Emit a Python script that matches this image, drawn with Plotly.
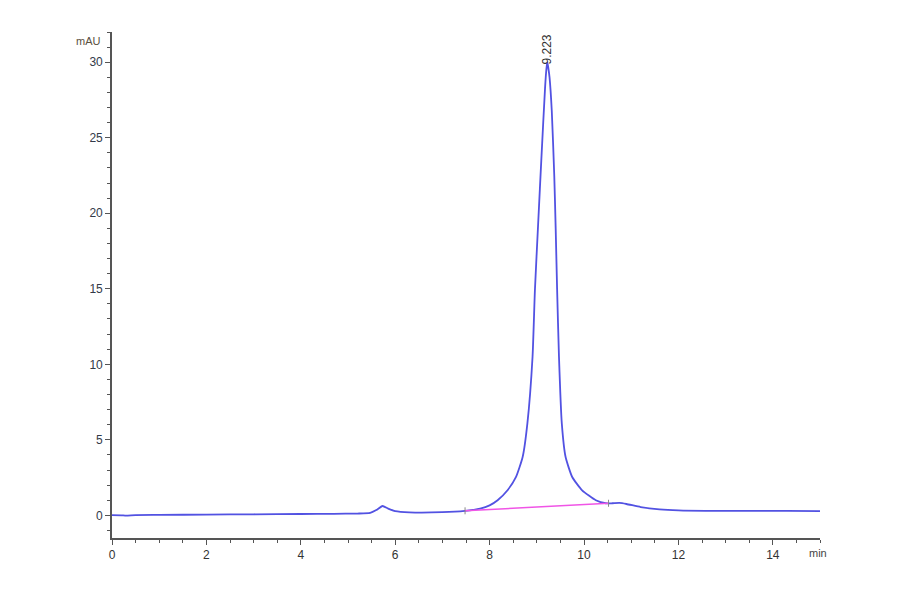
"""
HPLC/SEC chromatogram: absorbance (mAU) vs retention time (min),
single main peak at 9.223 min with its integration baseline.
"""

import plotly.graph_objects as go

# Detector trace (time in min, signal in mAU)
time_min = [0.0, 0.2, 0.3, 0.5, 1.0, 2.0, 3.0, 4.0, 4.7, 5.2, 5.47, 5.6, 5.73, 5.85,
            6.0, 6.3, 7.0, 7.48, 7.8, 8.0, 8.17, 8.38, 8.56, 8.70, 8.80, 8.91, 8.96,
            9.03, 9.10, 9.175, 9.205, 9.223, 9.24, 9.27, 9.317, 9.37, 9.40, 9.43,
            9.47, 9.53, 9.61, 9.75, 9.96, 10.25, 10.46, 10.6, 10.75, 10.9, 11.2,
            11.6, 12.0, 12.7, 13.5, 14.3, 15.0]
signal_mau = [0.02, 0.0, -0.02, 0.02, 0.03, 0.05, 0.07, 0.09, 0.10, 0.12, 0.16, 0.35,
              0.62, 0.45, 0.28, 0.20, 0.21, 0.30, 0.45, 0.66, 1.0, 1.66, 2.54, 3.86,
              6.07, 10.5, 14.9, 19.4, 23.8, 28.3, 29.6, 30.0, 29.7, 29.0, 26.8, 22.5,
              19.0, 15.0, 10.5, 6.07, 3.86, 2.54, 1.66, 1.0, 0.80, 0.80, 0.82, 0.75,
              0.55, 0.40, 0.33, 0.30, 0.30, 0.30, 0.28]

# Integration baseline under the main peak
baseline_time = [7.48, 10.52]
baseline_mau = [0.30, 0.80]

peak_time = 9.223
peak_mau = 30.0
peak_label = "9.223"

x_tick_vals = [0, 2, 4, 6, 8, 10, 12, 14]
y_tick_vals = [0, 5, 10, 15, 20, 25, 30]

FONT = 'Liberation Sans, Arial, sans-serif'


def main():
    fig = go.Figure()

    fig.add_trace(go.Scatter(
        x=time_min,
        y=signal_mau,
        mode='lines',
        line=dict(color='#5252e2', width=1.8, shape='spline', smoothing=0.5),
        showlegend=False,
        hoverinfo='x+y'
    ))

    fig.add_trace(go.Scatter(
        x=baseline_time,
        y=baseline_mau,
        mode='lines+markers',
        line=dict(color='#f055e6', width=1.6),
        marker=dict(symbol='line-ns-open', size=5, color='#888888',
                    line=dict(color='#888888', width=1)),
        showlegend=False,
        hoverinfo='skip'
    ))

    # Retention time label standing on the peak apex
    fig.add_annotation(
        x=peak_time, y=peak_mau,
        text=peak_label,
        textangle=-90,
        showarrow=False,
        xanchor='center', yanchor='bottom',
        yshift=-4,
        font=dict(size=12, color='#333333', family=FONT)
    )

    # Unit labels at the axis ends
    fig.add_annotation(
        x=0, y=1.0, xref='paper', yref='paper',
        text='mAU', showarrow=False,
        xanchor='right', yanchor='middle', xshift=-9, yshift=-9,
        font=dict(size=11, color='#5a5040', family=FONT)
    )
    fig.add_annotation(
        x=1.0, y=0, xref='paper', yref='paper',
        text='min', showarrow=False,
        xanchor='left', yanchor='top', xshift=-13, yshift=-7,
        font=dict(size=11, color='#444444', family=FONT)
    )

    fig.update_xaxes(
        range=[0, 15],
        tickmode='array',
        tickvals=x_tick_vals,
        ticks='outside', ticklen=5, tickwidth=1.2, tickcolor='#555555',
        minor=dict(dtick=0.5, ticks='outside', ticklen=3, tickcolor='#555555', tickwidth=1),
        showline=True, linecolor='#555555', linewidth=1.6,
        showgrid=False, zeroline=False,
        tickfont=dict(size=12, color='#333333', family=FONT)
    )
    fig.update_yaxes(
        range=[-1.5, 32],
        tickmode='array',
        tickvals=y_tick_vals,
        ticks='outside', ticklen=5, tickwidth=1.2, tickcolor='#555555',
        minor=dict(dtick=1, ticks='outside', ticklen=3, tickcolor='#555555', tickwidth=1),
        showline=True, linecolor='#555555', linewidth=1.6,
        showgrid=False, zeroline=False,
        tickfont=dict(size=12, color='#333a48', family=FONT)
    )

    # Page body adds 8px, so margins are trimmed to land the axes where the original has them
    fig.update_layout(
        width=900,
        height=594,
        margin=dict(l=104, r=88, t=24, b=64),
        plot_bgcolor='white',
        paper_bgcolor='white',
        showlegend=False
    )

    fig.write_html("out.html")


if __name__ == "__main__":
    main()
